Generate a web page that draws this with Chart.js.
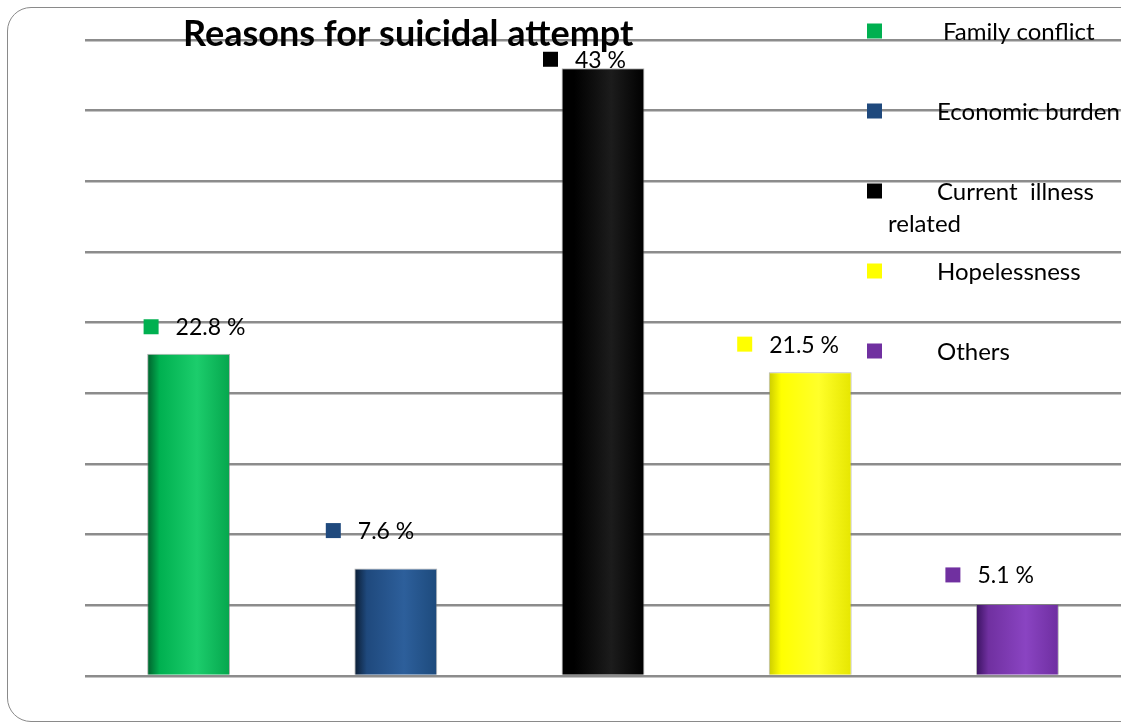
<!DOCTYPE html>
<html>
<head>
<meta charset="utf-8">
<script src="https://cdn.jsdelivr.net/npm/chart.js@4.4.1/dist/chart.umd.min.js"></script>
<style>
  html, body { margin: 0; padding: 0; background: #fff; overflow: hidden; }
  #wrap { position: relative; width: 1121px; height: 725px; }
  #frame {
    position: absolute; left: 7px; top: 7px; width: 1140px; height: 715px;
    border: 1.5px solid #8a8a8a; border-radius: 24px; box-sizing: border-box;
  }
  #chart { position: absolute; left: 0; top: 0; }
</style>
</head>
<body>
<div id="wrap">
  <div id="frame"></div>
  <canvas id="chart" width="1121" height="725"></canvas>
</div>
<script>
'use strict';

// ── Data ─────────────────────────────────────────────────────────────────────
const categories = ['Family conflict', 'Economic burden', 'Current  illness related', 'Hopelessness', 'Others'];
const percents   = [22.8, 7.6, 43, 21.5, 5.1];
const valueLabels = ['22.8 %', '7.6 %', '43 %', '21.5 %', '5.1 %'];
const chartTitle = 'Reasons for suicidal attempt';

// ── Styles ───────────────────────────────────────────────────────────────────
const baseColors = ['#00b050', '#1f497d', '#000000', '#ffff00', '#7030a0'];
// cylinder-ish shading: [left edge, highlight, right edge]
const shades = [
  ['#00602c', '#1ccd6c', '#05a64d'],
  ['#0b1d33', '#2d5f9b', '#1d4a7c'],
  ['#000000', '#1c1c1c', '#000000'],
  ['#cccc00', '#ffff2a', '#e6e600'],
  ['#3a1260', '#8a44c2', '#6e2ea0']
];
// label offsets relative to bar centre / bar top
const labelDx = [-45, -70, -60, -73, -72];
const labelDy = [-27, -38, -9, -28, -29];
const FONT = 'Lato, "Open Sans", sans-serif';

function barFill(ctx) {
  const chart = ctx.chart;
  const x = chart.scales.x;
  const i = ctx.dataIndex;
  if (!x || x.width === undefined || isNaN(x.getPixelForValue(i))) return baseColors[i];
  const cx = x.getPixelForValue(i);
  const w = x.width / categories.length * 0.4;
  const g = chart.ctx.createLinearGradient(cx - w / 2, 0, cx + w / 2, 0);
  const s = shades[i];
  g.addColorStop(0, s[0]);
  g.addColorStop(0.15, baseColors[i]);
  g.addColorStop(0.6, s[1]);
  g.addColorStop(1, s[2]);
  return g;
}

// ── Decorations: title, value labels, legend ────────────────────────────────
const decor = {
  id: 'decor',
  afterDatasetsDraw(chart) {
    const c = chart.ctx;
    const meta = chart.getDatasetMeta(0);
    c.save();

    // value labels
    c.font = '23px ' + FONT;
    c.textBaseline = 'middle';
    c.textAlign = 'left';
    meta.data.forEach((bar, i) => {
      const sx = bar.x + labelDx[i];
      const sy = bar.y + labelDy[i];
      c.fillStyle = baseColors[i];
      c.fillRect(sx, sy - 7.5, 15, 15);
      c.fillStyle = '#000';
      c.fillText(valueLabels[i], sx + 32, sy + 1);
    });

    // legend
    c.font = '24px ' + FONT;
    categories.forEach((name, i) => {
      const y = 31 + i * 80;
      c.fillStyle = baseColors[i];
      c.fillRect(867, y - 7.5, 15, 15);
      c.fillStyle = '#000';
      const words = name.split(' ');
      let line = '';
      const lines = [];
      for (const w of words) {
        const test = line ? line + ' ' + w : w;
        if (line && c.measureText(test).width > 200) { lines.push(line); line = w; }
        else line = test;
      }
      lines.push(line);
      lines.forEach((ln, k) => {
        c.fillText(ln, k === 0 ? (i === 0 ? 943 : 937) : 888, y + 1 + k * 32);
      });
    });

    // title
    c.font = 'bold 36px ' + FONT;
    c.textBaseline = 'alphabetic';
    c.fillText(chartTitle, 183, 46);
    c.restore();
  }
};

// ── Chart ────────────────────────────────────────────────────────────────────
new Chart(document.getElementById('chart'), {
  type: 'bar',
  data: {
    labels: categories,
    datasets: [{
      data: percents,
      backgroundColor: barFill,
      borderColor: 'rgba(120,120,120,0.55)',
      borderWidth: 1,
      barPercentage: 0.4,
      categoryPercentage: 1
    }]
  },
  options: {
    responsive: false,
    animation: false,
    layout: { padding: { left: 85, right: 0, top: 40, bottom: 41 } },
    plugins: { legend: { display: false }, tooltip: { enabled: false }, title: { display: false } },
    scales: {
      x: {
        grid: { display: false },
        border: { display: false },
        ticks: { display: false }
      },
      y: {
        min: 0,
        max: 45,
        ticks: { display: false, stepSize: 5 },
        grid: { color: '#8c8c8c', lineWidth: 2.5, drawTicks: false },
        border: { display: false }
      }
    }
  },
  plugins: [decor]
});
</script>
</body>
</html>
